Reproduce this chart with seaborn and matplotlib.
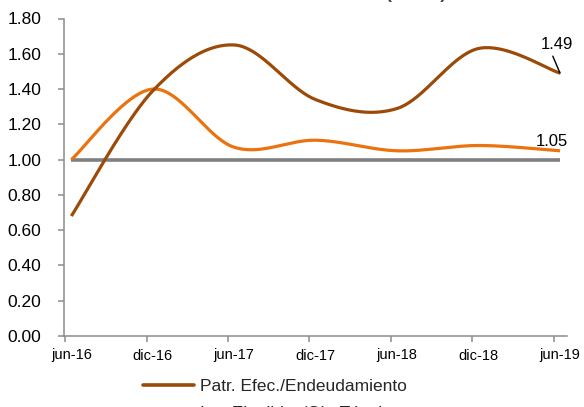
import numpy as np
import pandas as pd
import matplotlib
matplotlib.use("Agg")
import matplotlib.pyplot as plt
from matplotlib.lines import Line2D
from matplotlib.ticker import FixedLocator, NullFormatter
import seaborn as sns

# Semiannual observations
periods = ["jun-16", "dic-16", "jun-17", "dic-17", "jun-18", "dic-18", "jun-19"]
patr_endeud = [0.68, 1.39, 1.65, 1.34, 1.29, 1.63, 1.49]
inv_oblig = [1.00, 1.40, 1.07, 1.11, 1.05, 1.08, 1.05]
referencia = [1.00, 1.00, 1.00, 1.00, 1.00, 1.00, 1.00]
y_ticks = [0.00, 0.20, 0.40, 0.60, 0.80, 1.00, 1.20, 1.40, 1.60, 1.80]

name_a = "Patr. Efec./Endeudamiento"
name_b = "Inv. Elegibles/Ob. Técnicas"
name_c = "Referencia"

c_brown = "#9C4A08"
c_orange = "#EA730F"
c_gray = "#808080"

# month index of each observation (end of month, slightly after the tick)
x_pts = np.arange(len(periods)) * 6 + 0.46


def smooth(x, y, n=40):
    """Catmull-Rom smoothing through every point (spreadsheet-style curves)."""
    x = np.asarray(x, float)
    y = np.asarray(y, float)
    px = np.concatenate([[x[0]], x, [x[-1]]])
    py = np.concatenate([[y[0]], y, [y[-1]]])
    xs, ys = [], []
    for i in range(1, len(px) - 2):
        p0, p1, p2, p3 = (np.array([px[j], py[j]]) for j in (i - 1, i, i + 1, i + 2))
        c1 = p1 + (p2 - p0) / 6.0
        c2 = p2 - (p3 - p1) / 6.0
        t = np.linspace(0, 1, n, endpoint=(i == len(px) - 3))[:, None]
        b = ((1 - t) ** 3) * p1 + 3 * ((1 - t) ** 2) * t * c1 + 3 * (1 - t) * t ** 2 * c2 + t ** 3 * p2
        xs.append(b[:, 0])
        ys.append(b[:, 1])
    return np.concatenate(xs), np.concatenate(ys)


frames = []
for name, vals in [(name_c, referencia), (name_b, inv_oblig), (name_a, patr_endeud)]:
    sx, sy = smooth(x_pts, vals)
    frames.append(pd.DataFrame({"x": sx, "y": sy, "serie": name, "ord": np.arange(len(sx))}))
df = pd.concat(frames, ignore_index=True)

sns.set_theme(style="white")
plt.rcParams["font.family"] = ["Liberation Sans", "DejaVu Sans"]

fig = plt.figure(figsize=(5.84, 4.07), dpi=100)
ax = fig.add_axes([64 / 584, 1 - 336 / 407, (566.7 - 64) / 584, (336 - 18.5) / 407])

palette = {name_a: c_brown, name_b: c_orange, name_c: c_gray}
for name in [name_c, name_b, name_a]:
    sub = df[df["serie"] == name]
    sns.lineplot(data=sub, x="x", y="y", sort=False, estimator=None, color=palette[name],
                 linewidth=2.6 if name == name_c else 2.3, ax=ax, legend=False,
                 solid_capstyle="butt")

ax.set_xlim(-0.08, 36.95)
ax.set_ylim(0, 1.8)
ax.set_xlabel("")
ax.set_ylabel("")

# y axis
ax.set_yticks(y_ticks)
ax.set_yticklabels([f"{v:.2f}" for v in y_ticks], fontsize=12.5, color="#000000")
# x axis: labels under the observations, tick marks at the period boundaries
ax.set_xticks(x_pts)
ax.set_xticklabels(periods, fontsize=10.5, color="#000000")
ax.xaxis.set_minor_locator(FixedLocator(np.arange(len(periods)) * 6 + 0.0))
ax.xaxis.set_minor_formatter(NullFormatter())
ax.tick_params(axis="x", which="major", length=0, pad=9)
ax.tick_params(axis="x", which="minor", bottom=True, length=4.5, width=1.1, color="#8C8C8C")
ax.tick_params(axis="y", which="major", left=True, length=4.5, width=1.1, color="#8C8C8C", pad=12)

for side in ["top", "right"]:
    ax.spines[side].set_visible(False)
for side in ["left", "bottom"]:
    ax.spines[side].set_color("#8C8C8C")
    ax.spines[side].set_linewidth(1.1)
ax.grid(False)

# value labels on the last observation
ax.annotate(f"{patr_endeud[-1]:.2f}", xy=(x_pts[-1], patr_endeud[-1]),
            xytext=(x_pts[-1] - 0.2, patr_endeud[-1] + 0.165), textcoords="data",
            ha="center", va="center", fontsize=12, color="#000000",
            arrowprops=dict(arrowstyle="-", color="#000000", lw=1.0, shrinkA=1, shrinkB=0,
                            relpos=(0.3, 0.0)))
ax.text(x_pts[-1] - 0.6, inv_oblig[-1] + 0.01, f"{inv_oblig[-1]:.2f}", ha="center", va="bottom",
        fontsize=12, color="#000000")

# title (sits at the top edge)
fig.text(0.53, 1.0 + 1.5 / 407, "Indicadores de Solvencia (veces)", ha="center", va="baseline",
         fontsize=12.5, fontweight="bold", color="#404040")

handles = [Line2D([], [], color=c_brown, lw=2.6), Line2D([], [], color=c_orange, lw=2.6)]
fig.legend(handles, [name_a, name_b], loc="upper left", bbox_to_anchor=(140 / 584, 1 - 375 / 407),
           frameon=False, fontsize=12.5, handlelength=2.9, handletextpad=0.35,
           labelspacing=0.7, borderpad=0.2, borderaxespad=0)

fig.savefig("out.png", dpi=100)
